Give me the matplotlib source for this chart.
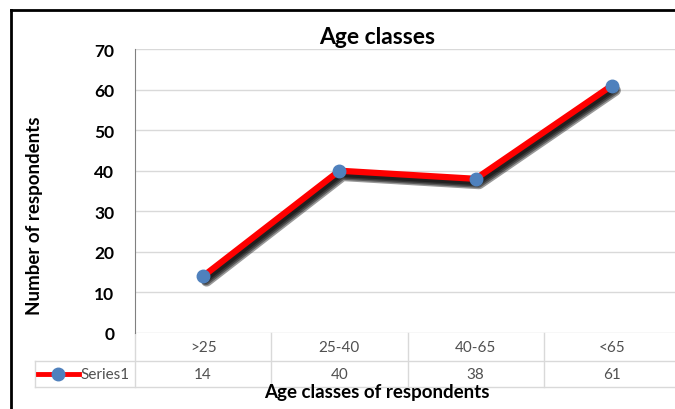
import numpy as np
import matplotlib.pyplot as plt
import matplotlib.patheffects as pe
from matplotlib.lines import Line2D
from matplotlib.transforms import blended_transform_factory

plt.rcParams['font.family'] = ['Lato', 'DejaVu Sans']

# age groups and how many respondents fell in each
age_classes = ['>25', '25-40', '40-65', '<65']
respondents = [14, 40, 38, 61]
series_name = 'Series1'

W, H = 675, 410
fig = plt.figure(figsize=(W / 100, H / 100), dpi=100)

# plot area in pixels: left 135, top 50, bottom 334, runs past the right edge
left, top, bottom, right = 135, 50, 334, 680
ax = fig.add_axes([left / W, (H - bottom) / H, (right - left) / W, (bottom - top) / H])

x = np.arange(len(age_classes))

# line with a soft drop shadow underneath
shadow = [pe.SimpleLineShadow(offset=(1.0 + i * 0.5, -2.0 - i * 0.5), shadow_color='black',
                              alpha=0.4, linewidth=5 + i) for i in range(4)]
ax.plot(x, respondents, color='#FF0000', linewidth=4.5, solid_capstyle='round',
        path_effects=shadow + [pe.Normal()], zorder=3)
ax.plot(x, respondents, linestyle='none', marker='o', markersize=9,
        color='#4F81BD', zorder=4)

ax.set_xlim(-0.5, len(age_classes) - 0.5)
ax.set_ylim(0, 70)
ax.set_yticks(np.arange(0, 71, 10))
ax.set_xticks([])
ax.yaxis.grid(True, color='#D9D9D9', linewidth=1)
ax.set_axisbelow(True)
for s in ['top', 'right', 'bottom']:
    ax.spines[s].set_visible(False)
ax.spines['left'].set_color('#808080')
ax.spines['left'].set_linewidth(0.8)
ax.tick_params(axis='y', length=0, pad=15, labelsize=12.5)
for lab in ax.get_yticklabels():
    lab.set_fontweight('bold')

# data table under the plot
tr = blended_transform_factory(ax.transData, ax.transAxes)
row1 = -(362 - bottom) / (bottom - top)
row2 = -(388 - bottom) / (bottom - top)
gray = '#D9D9D9'
for b in np.arange(-0.5, len(age_classes), 1.0):
    ax.plot([b, b], [0, row2], transform=tr, color=gray, lw=1, clip_on=False)
for i, (c, v) in enumerate(zip(age_classes, respondents)):
    ax.text(i, row1 / 2, c, transform=tr, ha='center', va='center',
            fontsize=11, color='#505050')
    ax.text(i, (row1 + row2) / 2, str(v), transform=tr, ha='center', va='center',
            fontsize=11, color='#505050')

for yy in [362, 388]:
    fig.add_artist(Line2D([35 / W, 1], [(H - yy) / H] * 2, color=gray, lw=1))
fig.add_artist(Line2D([35 / W, 35 / W], [(H - 362) / H, (H - 388) / H], color=gray, lw=1))

# legend key in the table
ky = (H - 375) / H
fig.add_artist(Line2D([38 / W, 79 / W], [ky, ky], color='#FF0000', lw=3.5))
fig.add_artist(Line2D([58 / W], [ky], marker='o', markersize=9, color='#4F81BD'))
fig.text(80 / W, ky, series_name, ha='left', va='center', fontsize=11, color='#505050')

# titles
fig.text(377 / W, (H - 38) / H, 'Age classes', ha='center', va='center',
         fontsize=16.5, fontweight='bold')
fig.text(377 / W, (H - 393) / H, 'Age classes of respondents', ha='center', va='center',
         fontsize=13.5, fontweight='bold')
fig.text(35 / W, (H - 216) / H, 'Number of respondents', ha='center', va='center',
         rotation=90, fontsize=13.5, fontweight='bold')

# frame
fig.add_artist(Line2D([11 / W, 11 / W], [0, (H - 11) / H], color='black', lw=2))
fig.add_artist(Line2D([11 / W, 1], [(H - 11) / H] * 2, color='black', lw=2))

fig.savefig('out.png', dpi=100)
